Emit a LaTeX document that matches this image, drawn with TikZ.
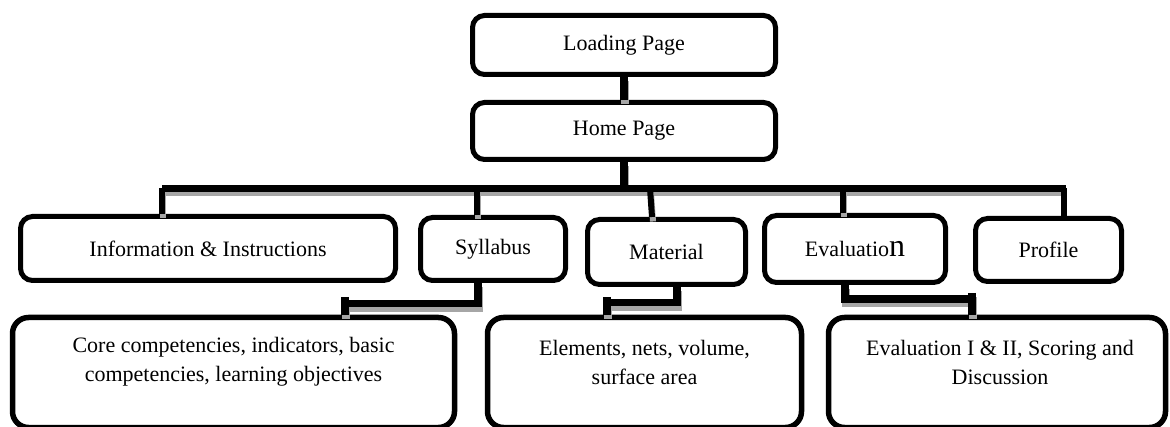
\documentclass[tikz,border=0pt]{standalone}
\usepackage{fontspec}
\setmainfont{Liberation Serif}
\definecolor{shadowgray}{HTML}{A6A6A6}
\tikzset{
  box/.style={draw=black, line width=5pt, rounded corners=12pt, fill=white, inner sep=0pt,
    font=\fontsize{22}{29}\selectfont, align=center},
  bigbox/.style={box, line width=5.5pt, rounded corners=16pt},
  txt/.style={inner sep=0pt, font=\fontsize{22}{29}\selectfont, align=center},
  vline/.style={line width=8pt},
  busline/.style={line width=7pt},
  drop/.style={line width=6pt},
  conn/.style={line width=7.5pt, line join=miter},
}
\newcommand\myconnectors{%
  \draw[vline] (load.south) -- (home.north);
  \draw[vline] (home.south) -- (home.south |- busL);
  \draw[busline] (busL) -- (busR);
  \draw[drop] (busL) -- (busL |- info.north);
  \draw[drop] (busS) -- (busS |- syl.north);
  \draw[drop] (busM) -- (652,0 |- mat.north);
  \draw[drop] (busE) -- (busE |- eval.north);
  % syllabus -> b1
  \draw[conn] (478,0 |- syl.south) -- (478,303.5) -- (345,303.5);
  \draw[conn] (345,297) -- (345,0 |- b1.north);
  % material -> b2
  \draw[conn] (677,0 |- mat.south) -- (677,302.5) -- (607,302.5);
  \draw[conn] (607,297) -- (607,0 |- b2.north);
  % evaluation -> b3
  \draw[conn] (845,0 |- eval.south) -- (845,299) -- (972,299);
  \draw[conn] (972,293) -- (972,0 |- b3.north);
}
\begin{document}
\begin{tikzpicture}[x=1pt, y=-1pt]
\useasboundingbox (0,0) rectangle (1170,427);
\clip (0,0) rectangle (1170,427);
\fill[white] (0,0) rectangle (1170,427);

% top
\node[box, minimum width=303pt, minimum height=59pt] (load) at (624,45) {Loading Page};
\node[box, minimum width=303pt, minimum height=57pt] (home) at (624,131) {Home Page};

% second level
\node[box, minimum width=375pt, minimum height=64pt] (info) at (208,248.5) {Information \& Instructions};
\node[box, minimum width=145pt, minimum height=63pt] (syl) at (493,249) {Syllabus};
\node[box, minimum width=158pt, minimum height=65pt] (mat) at (666.5,252) {Material};
\node[box, minimum width=181pt, minimum height=67pt] (eval) at (855,249) {Evaluatio{\fontsize{32}{32}\selectfont n}};
\node[box, minimum width=146pt, minimum height=63pt] (prof) at (1048.5,250) {Profile};

% third level
\node[bigbox, minimum width=442pt, minimum height=110pt] (b1) at (233.5,372.5) {};
\node[bigbox, minimum width=314pt, minimum height=110pt] (b2) at (644.5,372.5) {};
\node[bigbox, minimum width=337pt, minimum height=110pt] (b3) at (997,372.5) {};
\node[txt] (t1) at (233.5,362) {Core competencies, indicators, basic\\competencies, learning objectives};
\node[txt] (t2) at (644.5,362) {Elements, nets, volume,\\surface area};
\node[txt] (t3) at (1000,362) {Evaluation I \& II, Scoring and\\Discussion};

% bus coordinates
\coordinate (busL) at (162,188.5);
\coordinate (busR) at (1066,188.5);
\coordinate (busS) at (477,188.5);
\coordinate (busM) at (650,188.5);
\coordinate (busE) at (843,188.5);
\coordinate (busP) at (1064,188.5);

% shadows
\begin{scope}[color=shadowgray, transform canvas={xshift=1pt, yshift=-4.5pt}]
  \myconnectors
\end{scope}
% connectors
\begin{scope}[color=black]
  \myconnectors
  \draw[drop] (busP) -- (busP |- prof.north);
\end{scope}
\end{tikzpicture}
\end{document}
